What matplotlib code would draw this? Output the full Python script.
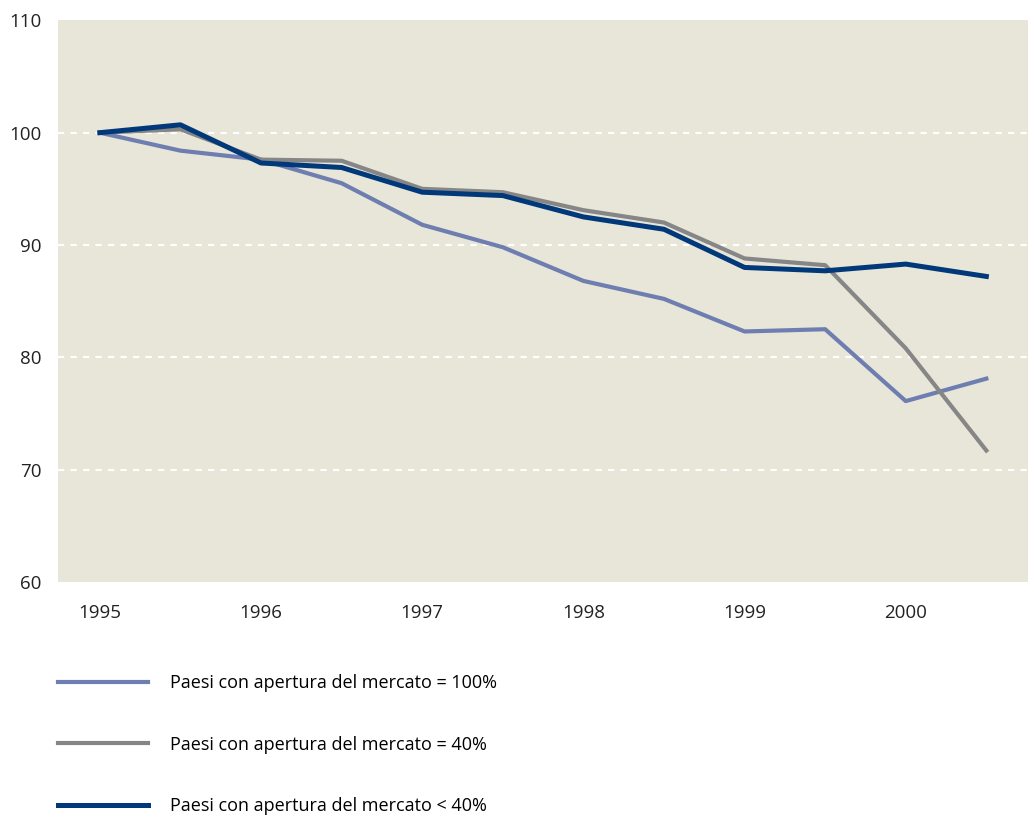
import numpy as np
import matplotlib.pyplot as plt

plt.rcParams['font.family'] = ['Open Sans', 'DejaVu Sans']

anni = [1995, 1995.5, 1996, 1996.5, 1997, 1997.5, 1998, 1998.5, 1999, 1999.5, 2000, 2000.5]
tick_anni = [1995, 1996, 1997, 1998, 1999, 2000]

apertura_100 = [100, 98.4, 97.6, 95.5, 91.8, 89.8, 86.8, 85.2, 82.3, 82.5, 76.1, 78.1]
apertura_40 = [100, 100.3, 97.6, 97.5, 95.0, 94.7, 93.1, 92.0, 88.8, 88.2, 80.8, 71.7]
apertura_meno40 = [100, 100.7, 97.3, 96.9, 94.7, 94.4, 92.5, 91.4, 88.0, 87.7, 88.3, 87.2]

etichette = ['Paesi con apertura del mercato = 100%',
             'Paesi con apertura del mercato = 40%',
             'Paesi con apertura del mercato < 40%']

fig = plt.figure(figsize=(10.35, 8.15), dpi=100)
ax = fig.add_axes([0.056, 0.286, 0.937, 0.689])
ax.set_facecolor('#E7E6D9')

for y in [70, 80, 90, 100]:
    ax.axhline(y, color='white', lw=1.5, ls=(0, (3, 3)), zorder=1)

l1, = ax.plot(anni, apertura_100, color='#6F7EB0', lw=3.0, zorder=2)
l2, = ax.plot(anni, apertura_40, color='#868686', lw=3.0, zorder=3)
l3, = ax.plot(anni, apertura_meno40, color='#00387A', lw=3.6, zorder=4)

ax.set_xlim(1994.74, 2000.757)
ax.set_ylim(60, 110)
ax.set_xticks(tick_anni)
ax.set_xticklabels([str(a) for a in tick_anni])
ax.set_yticks([60, 70, 80, 90, 100, 110])
for s in ax.spines.values():
    s.set_visible(False)
ax.tick_params(length=0, labelsize=13.5, colors='#222222')
ax.tick_params(axis='x', pad=16)
ax.tick_params(axis='y', pad=12)

fig.legend([l1, l2, l3], etichette, loc='upper left', bbox_to_anchor=(0.049, 0.182),
           frameon=False, fontsize=13, handlelength=5.0, handletextpad=1.2,
           labelspacing=2.42, borderaxespad=0)

fig.savefig('out.png', dpi=100)
